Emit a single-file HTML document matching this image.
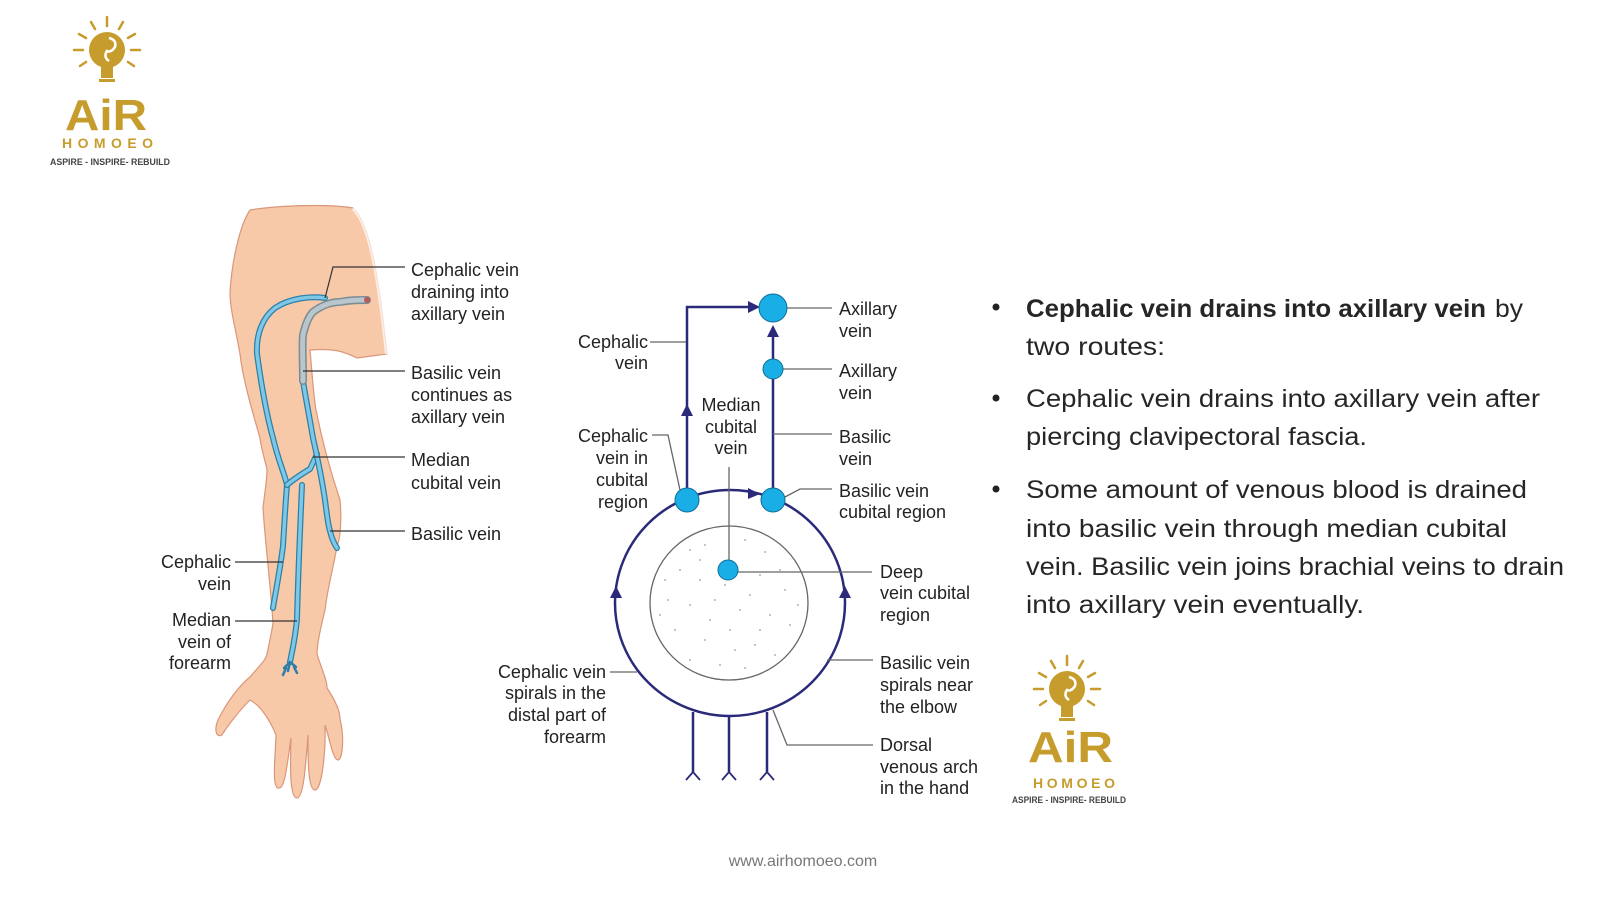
<!DOCTYPE html>
<html><head><meta charset="utf-8"><style>
html,body{margin:0;padding:0;background:#fff;}
svg{display:block;}
text{font-family:"Liberation Sans",sans-serif;}
</style></head><body>
<svg width="1600" height="900" viewBox="0 0 1600 900" xmlns="http://www.w3.org/2000/svg">
<defs>
<g id="logo">
  <g stroke="#c69c2c" stroke-width="2.5" stroke-linecap="round">
    <line x1="0" y1="-24" x2="0" y2="-33"/>
    <line x1="12" y1="-21" x2="16" y2="-28"/>
    <line x1="-12" y1="-21" x2="-16" y2="-28"/>
    <line x1="21" y1="-12" x2="28" y2="-16"/>
    <line x1="-21" y1="-12" x2="-28" y2="-16"/>
    <line x1="24" y1="0" x2="33" y2="0"/>
    <line x1="-24" y1="0" x2="-33" y2="0"/>
    <line x1="21" y1="12" x2="27" y2="16"/>
    <line x1="-21" y1="12" x2="-27" y2="16"/>
  </g>
  <circle cx="0" cy="0" r="18" fill="#c69c2c"/>
  <path d="M2,-12 q8,2 6,9 q-4,6 -8,4 q-4,6 2,10" stroke="#fff" stroke-width="2.5" fill="none"/>
  <rect x="-6" y="16" width="12" height="12" fill="#c69c2c"/>
  <rect x="-8" y="29" width="16" height="3" fill="#c69c2c"/>
</g>
</defs>

<!-- Logo 1 -->
<use href="#logo" x="107" y="50"/>
<text x="65" y="130" font-size="44" font-weight="bold" fill="#c69c2c" textLength="82" lengthAdjust="spacingAndGlyphs">AiR</text>
<text x="62" y="148" font-size="14" font-weight="bold" fill="#c69c2c" textLength="91" lengthAdjust="spacing">HOMOEO</text>
<text x="50" y="165" font-size="9" font-weight="bold" fill="#444" textLength="120" lengthAdjust="spacingAndGlyphs">ASPIRE - INSPIRE- REBUILD</text>

<!-- Logo 2 -->
<use href="#logo" x="1067" y="689"/>
<text x="1028" y="762" font-size="44" font-weight="bold" fill="#c69c2c" textLength="85" lengthAdjust="spacingAndGlyphs">AiR</text>
<text x="1033" y="788" font-size="14" font-weight="bold" fill="#c69c2c" textLength="82" lengthAdjust="spacing">HOMOEO</text>
<text x="1012" y="803" font-size="9" font-weight="bold" fill="#444" textLength="114" lengthAdjust="spacingAndGlyphs">ASPIRE - INSPIRE- REBUILD</text>

<!-- ARM -->
<path d="M250,210 C280,205 330,204 353,208 C372,225 380,290 387,354 L357,358 C345,352 335,348 310,350 C312,370 313,392 316,410 C322,440 330,470 340,500 C342,520 340,540 337,546 C333,570 328,585 325,610 C320,630 317,645 317,654 C322,670 327,680 327,688 C335,700 340,710 340,719 C345,740 342,760 338,760 C333,760 330,740 325,725 C326,750 322,790 315,790 C308,790 308,760 308,735 C306,760 304,798 297,798 C290,798 290,770 291,738 C287,765 285,790 278,788 C272,786 275,760 276,735 C270,720 260,705 250,700 C240,710 228,725 222,735 C216,738 214,730 218,720 C228,700 240,685 250,677 C260,665 266,660 267,654 C270,640 272,630 273,623 C270,580 265,540 263,508 C265,490 267,480 267,469 C262,450 260,440 260,438 C252,410 243,380 240,354 C236,330 230,310 230,292 C232,260 240,225 250,210 Z" fill="#f8c9a8" stroke="#d9967a" stroke-width="1.2"/>
<path d="M353,208 C372,225 380,290 387,354" stroke="#fff" stroke-width="4" fill="none" opacity="0.7"/>
<!-- veins -->
<g fill="none" stroke-linecap="round" stroke-linejoin="round">
  <path d="M325,298 C310,296 290,298 275,308 C262,318 256,335 257,354 C262,390 268,420 273,438 C278,460 285,475 287,485 C285,510 284,530 283,546 C280,570 276,590 273,608" stroke="#2c7fa8" stroke-width="6"/>
  <path d="M325,298 C310,296 290,298 275,308 C262,318 256,335 257,354 C262,390 268,420 273,438 C278,460 285,475 287,485 C285,510 284,530 283,546 C280,570 276,590 273,608" stroke="#7cc8e6" stroke-width="3.5"/>
  <path d="M287,485 C295,478 305,472 310,469 L317,454" stroke="#2c7fa8" stroke-width="6"/>
  <path d="M287,485 C295,478 305,472 310,469 L317,454" stroke="#7cc8e6" stroke-width="3.5"/>
  <path d="M303,381 C306,400 310,420 313,438 C318,460 322,480 325,500 C327,515 328,525 330,531 C332,540 335,545 337,548" stroke="#2c7fa8" stroke-width="6"/>
  <path d="M303,381 C306,400 310,420 313,438 C318,460 322,480 325,500 C327,515 328,525 330,531 C332,540 335,545 337,548" stroke="#7cc8e6" stroke-width="3.5"/>
  <path d="M302,485 C300,530 298,580 297,619 C295,640 292,652 290,662" stroke="#2c7fa8" stroke-width="6"/>
  <path d="M302,485 C300,530 298,580 297,619 C295,640 292,652 290,662" stroke="#7cc8e6" stroke-width="3.5"/>
  <path d="M290,662 l-6,6 M290,662 l6,5 M290,662 l-2,9 M286,668 l-3,7 M294,667 l3,6" stroke="#2c7fa8" stroke-width="2.5"/>
  <path d="M303,381 C303,360 302,345 303,335 C306,322 310,315 313,312 C322,305 332,302 340,302 C350,300 358,300 367,300" stroke="#7a8d95" stroke-width="8"/>
  <path d="M303,381 C303,360 302,345 303,335 C306,322 310,315 313,312 C322,305 332,302 340,302 C350,300 358,300 367,300" stroke="#b9c6cb" stroke-width="5" stroke-dasharray="3,2"/>
  <circle cx="367" cy="300" r="3" fill="#b85a5a" stroke="none"/>
</g>
<!-- arm leaders -->
<g stroke="#333" stroke-width="1.2" fill="none">
  <polyline points="325,298 333,267 405,267"/>
  <line x1="303" y1="371" x2="405" y2="371"/>
  <line x1="313" y1="457" x2="405" y2="457"/>
  <line x1="330" y1="531" x2="405" y2="531"/>
  <line x1="235" y1="562" x2="283" y2="562"/>
  <line x1="235" y1="621" x2="297" y2="621"/>
</g>
<g font-size="18" fill="#222">
  <text x="411" y="276">Cephalic vein</text>
  <text x="411" y="298">draining into</text>
  <text x="411" y="320">axillary vein</text>
  <text x="411" y="379">Basilic vein</text>
  <text x="411" y="401">continues as</text>
  <text x="411" y="423">axillary vein</text>
  <text x="411" y="466">Median</text>
  <text x="411" y="489">cubital vein</text>
  <text x="411" y="540">Basilic vein</text>
  <g text-anchor="end">
    <text x="231" y="568">Cephalic</text>
    <text x="231" y="590">vein</text>
    <text x="231" y="626">Median</text>
    <text x="231" y="648">vein of</text>
    <text x="231" y="669">forearm</text>
  </g>
</g>

<!-- SCHEMATIC -->
<ellipse cx="730" cy="603" rx="115" ry="113" fill="none" stroke="#2b2a7a" stroke-width="2.5"/>
<ellipse cx="729" cy="603" rx="79" ry="77" fill="#fff" stroke="#666" stroke-width="1.3"/>
<g fill="#999">
  <circle cx="690" cy="550" r="0.9"/><circle cx="705" cy="545" r="0.9"/><circle cx="745" cy="540" r="0.9"/><circle cx="765" cy="552" r="0.9"/><circle cx="680" cy="570" r="0.9"/><circle cx="700" cy="580" r="0.9"/><circle cx="760" cy="575" r="0.9"/><circle cx="785" cy="590" r="0.9"/><circle cx="668" cy="600" r="0.9"/><circle cx="690" cy="605" r="0.9"/><circle cx="715" cy="600" r="0.9"/><circle cx="740" cy="610" r="0.9"/><circle cx="770" cy="615" r="0.9"/><circle cx="790" cy="625" r="0.9"/><circle cx="675" cy="630" r="0.9"/><circle cx="705" cy="640" r="0.9"/><circle cx="730" cy="630" r="0.9"/><circle cx="755" cy="645" r="0.9"/><circle cx="775" cy="655" r="0.9"/><circle cx="690" cy="660" r="0.9"/><circle cx="720" cy="665" r="0.9"/><circle cx="745" cy="668" r="0.9"/><circle cx="660" cy="615" r="0.9"/><circle cx="798" cy="605" r="0.9"/><circle cx="725" cy="585" r="0.9"/><circle cx="750" cy="595" r="0.9"/><circle cx="710" cy="620" r="0.9"/><circle cx="780" cy="570" r="0.9"/><circle cx="665" cy="580" r="0.9"/><circle cx="735" cy="650" r="0.9"/><circle cx="700" cy="560" r="0.9"/><circle cx="760" cy="630" r="0.9"/>
</g>
<g stroke="#2b2a7a" stroke-width="2.5" fill="none">
  <polyline points="687,500 687,307 752,307"/>
  <line x1="773" y1="500" x2="773" y2="330"/>
  <line x1="693" y1="712" x2="693" y2="772"/>
  <line x1="729" y1="716" x2="729" y2="772"/>
  <line x1="767" y1="712" x2="767" y2="772"/>
</g>
<g stroke="#2b2a7a" stroke-width="1.8" fill="none">
  <polyline points="686,780 693,772 700,780"/>
  <polyline points="722,780 729,772 736,780"/>
  <polyline points="760,780 767,772 774,780"/>
</g>
<g fill="#2b2a7a">
  <polygon points="760,307 748,301 748,313"/>
  <polygon points="687,404 681,416 693,416"/>
  <polygon points="773,325 767,337 779,337"/>
  <polygon points="760,494 748,488 748,499"/>
  <polygon points="616,586 610,598 622,598"/>
  <polygon points="845,586 839,598 851,598"/>
</g>
<g stroke="#666" stroke-width="1.3" fill="none">
  <line x1="729" y1="467" x2="729" y2="569"/>
  <line x1="773" y1="308" x2="832" y2="308"/>
  <line x1="773" y1="369" x2="832" y2="369"/>
  <line x1="773" y1="434" x2="832" y2="434"/>
  <polyline points="785,497 800,489 832,489"/>
  <line x1="728" y1="572" x2="872" y2="572"/>
  <line x1="827" y1="660" x2="873" y2="660"/>
  <polyline points="773,710 787,745 873,745"/>
  <line x1="650" y1="342" x2="686" y2="342"/>
  <polyline points="652,435 668,435 680,490"/>
  <line x1="610" y1="672" x2="637" y2="672"/>
</g>
<g fill="#1aaee6" stroke="#0f6f99" stroke-width="1">
  <circle cx="773" cy="308" r="14"/>
  <circle cx="773" cy="369" r="10"/>
  <circle cx="687" cy="500" r="12"/>
  <circle cx="773" cy="500" r="12"/>
  <circle cx="728" cy="570" r="10"/>
</g>
<g font-size="18" fill="#222">
  <text x="839" y="315">Axillary</text><text x="839" y="337">vein</text>
  <text x="839" y="377">Axillary</text><text x="839" y="399">vein</text>
  <text x="839" y="443">Basilic</text><text x="839" y="465">vein</text>
  <text x="839" y="497">Basilic vein</text><text x="839" y="518">cubital region</text>
  <text x="880" y="578">Deep</text><text x="880" y="599">vein cubital</text><text x="880" y="621">region</text>
  <text x="880" y="669">Basilic vein</text><text x="880" y="691">spirals near</text><text x="880" y="713">the elbow</text>
  <text x="880" y="751">Dorsal</text><text x="880" y="773">venous arch</text><text x="880" y="794">in the hand</text>
  <g text-anchor="middle">
    <text x="731" y="411">Median</text><text x="731" y="433">cubital</text><text x="731" y="454">vein</text>
  </g>
  <g text-anchor="end">
    <text x="648" y="348">Cephalic</text><text x="648" y="369">vein</text>
    <text x="648" y="442">Cephalic</text><text x="648" y="464">vein in</text><text x="648" y="486">cubital</text><text x="648" y="508">region</text>
    <text x="606" y="678">Cephalic vein</text><text x="606" y="699">spirals in the</text><text x="606" y="721">distal part of</text><text x="606" y="743">forearm</text>
  </g>
</g>

<!-- RIGHT TEXT -->
<g fill="#222">
  <circle cx="996" cy="307" r="3.5"/>
  <circle cx="996" cy="398" r="3.5"/>
  <circle cx="996" cy="489" r="3.5"/>
</g>
<g font-size="25" fill="#262626">
  <text x="1026" y="317" font-weight="bold" textLength="460" lengthAdjust="spacingAndGlyphs">Cephalic vein drains into axillary vein</text>
  <text x="1495" y="317" textLength="28" lengthAdjust="spacingAndGlyphs">by</text>
  <text x="1026" y="355" textLength="139" lengthAdjust="spacingAndGlyphs">two routes:</text>
  <text x="1026" y="407" textLength="514" lengthAdjust="spacingAndGlyphs">Cephalic vein drains into axillary vein after</text>
  <text x="1026" y="445" textLength="341" lengthAdjust="spacingAndGlyphs">piercing clavipectoral fascia.</text>
  <text x="1026" y="498" textLength="501" lengthAdjust="spacingAndGlyphs">Some amount of venous blood is drained</text>
  <text x="1026" y="537" textLength="481" lengthAdjust="spacingAndGlyphs">into basilic vein through median cubital</text>
  <text x="1026" y="575" textLength="538" lengthAdjust="spacingAndGlyphs">vein. Basilic vein joins brachial veins to drain</text>
  <text x="1026" y="613" textLength="338" lengthAdjust="spacingAndGlyphs">into axillary vein eventually.</text>
</g>

<text x="803" y="866" font-size="16" fill="#777" text-anchor="middle">www.airhomoeo.com</text>
</svg>
</body></html>
